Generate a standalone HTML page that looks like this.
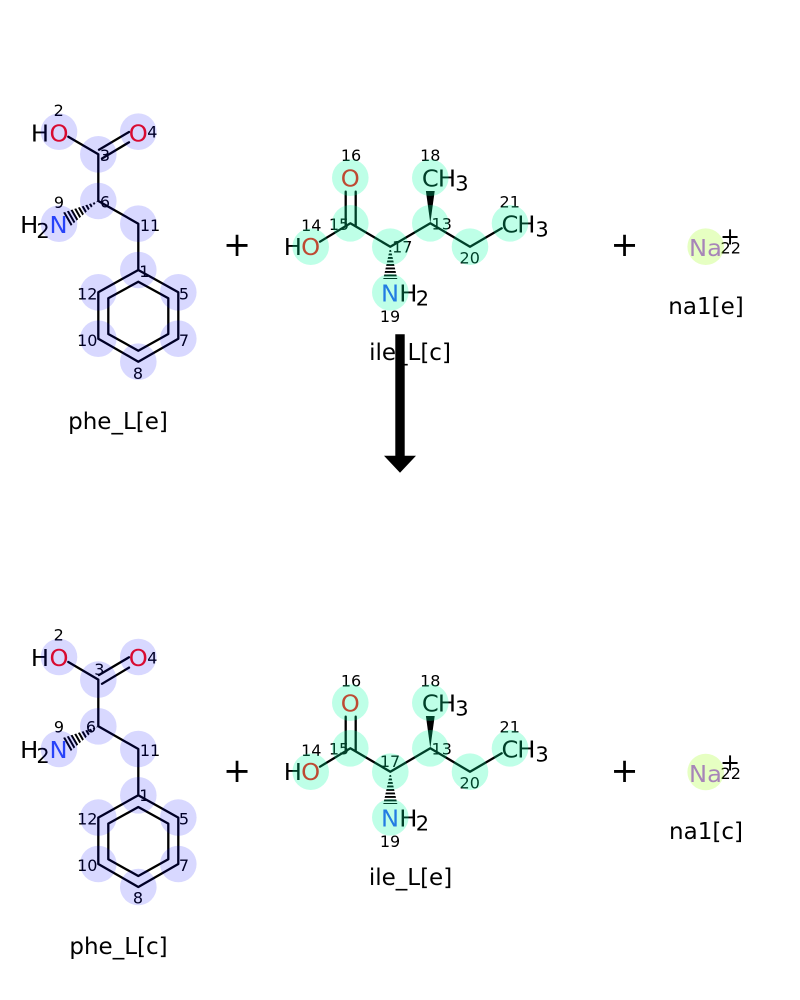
<!DOCTYPE html>
<html><head><meta charset="utf-8"><style>
html,body{margin:0;padding:0;background:#fff}
svg{display:block}
text{font-family:"DejaVu Sans","Liberation Sans",sans-serif}
.a,.s{transform-box:fill-box;transform-origin:center}
.a{font-size:23px;text-anchor:middle;transform:scaleX(1.05)}
.s{font-size:20px;text-anchor:middle;transform:scaleX(1.05)}
.n{font-size:16px;text-anchor:middle;fill:#000}
.t{font-size:23px;text-anchor:middle;fill:#000}
.p{font-size:33.5px;text-anchor:middle;fill:#000}
.r{fill:#ff0d0d}.b{fill:#3050f8}
.l{fill:none;stroke:#000;stroke-width:2.3;stroke-linecap:round;stroke-linejoin:round}
.plus{font-size:24px;text-anchor:middle}
</style></head><body>
<svg width="800" height="1000" viewBox="0 0 800 1000" xmlns="http://www.w3.org/2000/svg">
<defs>
<clipPath id="h1"><polygon points="98.3,201 70,226.6 62,213"/></clipPath>
<clipPath id="h2"><polygon points="390.3,246.7 397.3,279 383.3,279"/></clipPath>
<g id="phe">
<path class="l" d="M68.3,136.7L98.3,154.3V201L138.3,223.7V270L178.3,292.3V338.7L138.3,361.7L98.3,338.7V292.3L138.3,270"/>
<path class="l" d="M99,149.7L129,132M102,158.5L129,142.3M138.3,281.7L168.3,298.3V334L138.3,350.7L108.3,334V298.3Z"/>
<line x1="98.3" y1="201" x2="62" y2="222" stroke="#000" stroke-width="18" stroke-dasharray="2 1.8" clip-path="url(#h1)"/>
</g>
<g id="ile">
<path class="l" d="M320,241.7L350.3,223.3L390.3,246.7L430.3,223.3L470,246.7L501.7,228.3"/>
<path class="l" d="M345.7,191.7V226M355.7,191.7V226"/>
<polygon points="430.3,223.3 425.9,191 434.7,191" fill="#000"/>
<line x1="390.3" y1="250" x2="390.3" y2="279" stroke="#000" stroke-width="18" stroke-dasharray="1.9 1.6" clip-path="url(#h2)"/>
</g>
</defs>

<!-- TOP: phe_L[e] -->
<use href="#phe"/>
<text class="a" x="40" y="141.3">H</text><text class="a r" x="59" y="141.3">O</text>
<text class="a r" x="138.3" y="141.3">O</text>
<text class="a" x="29.2" y="233">H</text><text class="s" x="43" y="238">2</text><text class="a b" x="58.5" y="233">N</text>
<text class="n" x="58.7" y="116">2</text><text class="n" x="105" y="161">3</text><text class="n" x="152.3" y="137.5">4</text>
<text class="n" x="59" y="208">9</text><text class="n" x="105" y="207.5">6</text><text class="n" x="150" y="231">11</text>
<text class="n" x="144.3" y="277">1</text><text class="n" x="87.3" y="299.5">12</text><text class="n" x="184" y="299.5">5</text>
<text class="n" x="87.3" y="346">10</text><text class="n" x="184" y="346">7</text><text class="n" x="138" y="379">8</text>
<g fill="#00f" opacity=".15">
<circle cx="59" cy="131.7" r="18.3"/><circle cx="98.3" cy="154.3" r="18.3"/><circle cx="138.3" cy="131.7" r="18.3"/>
<circle cx="98.3" cy="201" r="18.3"/><circle cx="59" cy="223.7" r="18.3"/><circle cx="138.3" cy="223.7" r="18.3"/>
<circle cx="138.3" cy="270" r="18.3"/><circle cx="178.3" cy="292.3" r="18.3"/><circle cx="178.3" cy="338.7" r="18.3"/>
<circle cx="138.3" cy="361.7" r="18.3"/><circle cx="98.3" cy="338.7" r="18.3"/><circle cx="98.3" cy="292.3" r="18.3"/>
</g>
<text class="t" x="118" y="429">phe_L[e]</text>
<text class="p" x="237" y="256">+</text>

<!-- TOP: ile_L[c] -->
<use href="#ile"/>
<text class="a r" x="350.3" y="186.7">O</text>
<text class="a" x="292.8" y="255">H</text><text class="a r" x="310.7" y="255">O</text>
<text class="a" x="430.3" y="186.7">C</text><text class="a" x="447" y="186.7">H</text><text class="s" x="462" y="190.7">3</text>
<text class="a" x="510" y="232.7">C</text><text class="a" x="526.3" y="232.7">H</text><text class="s" x="542" y="236.7">3</text>
<text class="a b" x="390" y="301.7">N</text><text class="a" x="408.3" y="301.7">H</text><text class="s" x="422.5" y="305.7">2</text>
<text class="n" x="351" y="161">16</text><text class="n" x="430.3" y="161">18</text><text class="n" x="311.3" y="231">14</text>
<text class="n" x="339" y="230">15</text><text class="n" x="509.7" y="207.5">21</text><text class="n" x="441.7" y="229.5">13</text>
<text class="n" x="402.3" y="252.5">17</text><text class="n" x="469.7" y="263.5">20</text><text class="n" x="390" y="322">19</text>
<g fill="#00ffa3" opacity=".25">
<circle cx="350.3" cy="177.7" r="18.3"/><circle cx="350.3" cy="223.3" r="18.3"/><circle cx="310.7" cy="246.7" r="18.3"/>
<circle cx="390.3" cy="246.7" r="18.3"/><circle cx="430.3" cy="223.3" r="18.3"/><circle cx="430.3" cy="177.7" r="18.3"/>
<circle cx="470" cy="246.7" r="18.3"/><circle cx="510" cy="223.3" r="18.3"/><circle cx="390.3" cy="292.3" r="18.3"/>
</g>
<text class="t" x="410" y="360">ile_L[c]</text>
<text class="p" x="624.5" y="256">+</text>

<!-- TOP: na1[e] -->
<text class="a" x="705.5" y="256" style="fill:#ab5cf2">Na</text>
<text class="plus" x="730" y="244.5">+</text>
<text class="n" x="730.7" y="253.5">22</text>
<circle cx="705.7" cy="246.7" r="18.3" fill="#9bff0b" opacity=".25"/>
<text class="t" x="706" y="314">na1[e]</text>

<!-- ARROW -->
<path d="M395.3,334.3H404.7V455.7H416L400,472.7L384,455.7H395.3Z" fill="#000"/>

<!-- BOTTOM: phe_L[c] -->
<use href="#phe" y="525.3"/>
<text class="a" x="40" y="666">H</text><text class="a r" x="59" y="666">O</text>
<text class="a r" x="138.3" y="666">O</text>
<text class="a" x="29.2" y="758">H</text><text class="s" x="43" y="763">2</text><text class="a b" x="58.5" y="758">N</text>
<text class="n" x="58.7" y="640.5">2</text><text class="n" x="99.3" y="675">3</text><text class="n" x="152.3" y="663.5">4</text>
<text class="n" x="59" y="732.5">9</text><text class="n" x="91" y="732.5">6</text><text class="n" x="150" y="756">11</text>
<text class="n" x="144.3" y="801">1</text><text class="n" x="87.3" y="824.5">12</text><text class="n" x="184" y="824.5">5</text>
<text class="n" x="87.3" y="871">10</text><text class="n" x="184" y="871">7</text><text class="n" x="138" y="903.5">8</text>
<g fill="#00f" opacity=".15" transform="translate(0,525.3)">
<circle cx="59" cy="131.7" r="18.3"/><circle cx="98.3" cy="154.3" r="18.3"/><circle cx="138.3" cy="131.7" r="18.3"/>
<circle cx="98.3" cy="201" r="18.3"/><circle cx="59" cy="223.7" r="18.3"/><circle cx="138.3" cy="223.7" r="18.3"/>
<circle cx="138.3" cy="270" r="18.3"/><circle cx="178.3" cy="292.3" r="18.3"/><circle cx="178.3" cy="338.7" r="18.3"/>
<circle cx="138.3" cy="361.7" r="18.3"/><circle cx="98.3" cy="338.7" r="18.3"/><circle cx="98.3" cy="292.3" r="18.3"/>
</g>
<text class="t" x="118.5" y="954">phe_L[c]</text>
<text class="p" x="237" y="782">+</text>

<!-- BOTTOM: ile_L[e] -->
<use href="#ile" y="525"/>
<text class="a r" x="350.3" y="711.7">O</text>
<text class="a" x="292.8" y="780">H</text><text class="a r" x="310.7" y="780">O</text>
<text class="a" x="430.3" y="711.7">C</text><text class="a" x="447" y="711.7">H</text><text class="s" x="462" y="715.7">3</text>
<text class="a" x="510" y="757.7">C</text><text class="a" x="526.3" y="757.7">H</text><text class="s" x="542" y="761.7">3</text>
<text class="a b" x="390" y="826.7">N</text><text class="a" x="408.3" y="826.7">H</text><text class="s" x="422.5" y="830.7">2</text>
<text class="n" x="351" y="686.5">16</text><text class="n" x="430.3" y="686.5">18</text><text class="n" x="311.3" y="756">14</text>
<text class="n" x="339" y="754.5">15</text><text class="n" x="509.7" y="732.5">21</text><text class="n" x="441.7" y="754.5">13</text>
<text class="n" x="390" y="767">17</text><text class="n" x="469.7" y="788.5">20</text><text class="n" x="390" y="847">19</text>
<g fill="#00ffa3" opacity=".25" transform="translate(0,525)">
<circle cx="350.3" cy="177.7" r="18.3"/><circle cx="350.3" cy="223.3" r="18.3"/><circle cx="310.7" cy="246.7" r="18.3"/>
<circle cx="390.3" cy="246.7" r="18.3"/><circle cx="430.3" cy="223.3" r="18.3"/><circle cx="430.3" cy="177.7" r="18.3"/>
<circle cx="470" cy="246.7" r="18.3"/><circle cx="510" cy="223.3" r="18.3"/><circle cx="390.3" cy="292.3" r="18.3"/>
</g>
<text class="t" x="410.5" y="885">ile_L[e]</text>
<text class="p" x="624.5" y="782">+</text>

<!-- BOTTOM: na1[c] -->
<text class="a" x="705.5" y="782" style="fill:#ab5cf2">Na</text>
<text class="plus" x="730" y="770.5">+</text>
<text class="n" x="730.7" y="779">22</text>
<circle cx="705.7" cy="772" r="18.3" fill="#9bff0b" opacity=".25"/>
<text class="t" x="706" y="839">na1[c]</text>
</svg>
</body></html>
